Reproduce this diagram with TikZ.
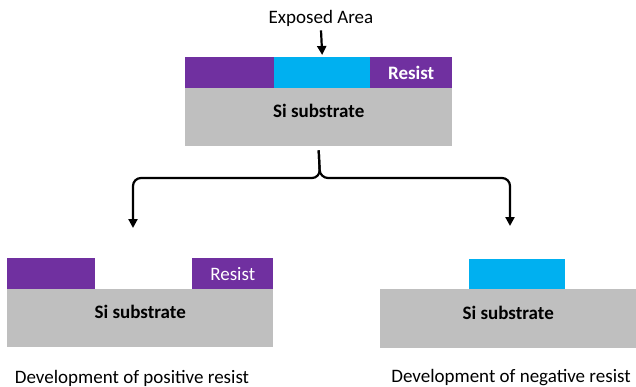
\documentclass[tikz,border=0pt]{standalone}
\usepackage{fontspec}
\setmainfont{Carlito}
\usepackage{tikz}
\usetikzlibrary{arrows.meta, positioning}

\definecolor{resistpurple}{HTML}{7030A0}
\definecolor{exposedcyan}{HTML}{00B0F0}
\definecolor{substrategray}{HTML}{BFBFBF}

\begin{document}
\begin{tikzpicture}[
    x=1pt, y=-1pt,
    layer/.style={
        rectangle,
        inner sep=0pt,
        anchor=north west,
        font=\fontsize{19}{22}\selectfont
    },
    resist/.style={layer, fill=resistpurple, text=white},
    exposed/.style={layer, fill=exposedcyan},
    substrate/.style={layer, fill=substrategray, text depth=12pt, font=\fontsize{19}{22}\selectfont\bfseries},
    caption/.style={font=\fontsize{19}{22}\selectfont, inner sep=0pt},
    arrow/.style={->, >={Triangle[length=9pt, width=9pt]}, line width=2.2pt}
]
  \useasboundingbox (0,0) rectangle (636,387);

  % exposed wafer
  \node[caption] (expolabel) at (321,18) {Exposed Area};
  \node[resist, minimum width=89, minimum height=31] (topleft) at (185,57) {};
  \node[exposed, minimum width=96, minimum height=31] (topexpo) at (274,57) {};
  \node[resist, minimum width=82, minimum height=31, font=\fontsize{19}{22}\selectfont\bfseries] (topright) at (370,57) {Resist};
  \node[substrate, minimum width=267, minimum height=58] (topsub) at (185,88) {Si substrate};

  \draw[arrow] ([yshift=-4pt]expolabel.south) -- ([yshift=2pt]topexpo.north);

  % positive resist
  \node[resist, minimum width=88, minimum height=31] (posleft) at (7,258) {};
  \node[resist, minimum width=81, minimum height=31] (posright) at (192,258) {Resist};
  \node[substrate, minimum width=266, minimum height=58] (possub) at (7,289) {Si substrate};
  \node[caption] (poscap) at (132,378) {Development of positive resist};

  % negative resist
  \node[exposed, minimum width=96, minimum height=30] (negres) at (469,259) {};
  \node[substrate, minimum width=256, minimum height=59] (negsub) at (380,289) {Si substrate};
  \node[caption] (negcap) at (511,378) {Development of negative resist};

  % fork
  \coordinate (fork) at (320,178);
  \coordinate (posend) at (133,228);
  \coordinate (negend) at (510,226);
  \draw[arrow, rounded corners=8pt] ([yshift=-4pt]topsub.south) -- (fork) -| (posend);
  \draw[arrow, rounded corners=8pt] ([yshift=-4pt]topsub.south) -- (fork) -| (negend);
\end{tikzpicture}
\end{document}
